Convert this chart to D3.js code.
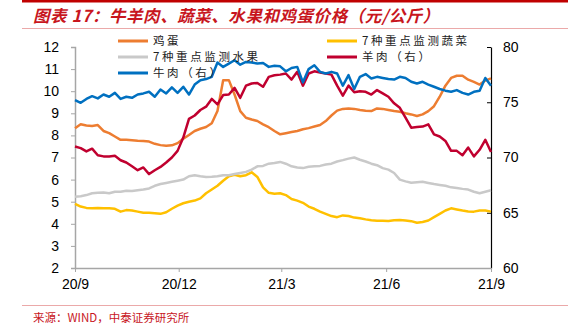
<!DOCTYPE html>
<html><head><meta charset="utf-8">
<script src="https://cdn.jsdelivr.net/npm/d3@7"></script>
<style>
html,body{margin:0;padding:0;background:#fff;}
svg{display:block;}
</style></head>
<body>
<svg id="c" width="568" height="326"></svg>
<script>
const dates = ["2020-09-01","2020-09-06","2020-09-11","2020-09-16","2020-09-21","2020-09-26","2020-10-01","2020-10-06","2020-10-11","2020-10-16","2020-10-21","2020-10-26","2020-10-31","2020-11-05","2020-11-10","2020-11-15","2020-11-20","2020-11-25","2020-11-30","2020-12-05","2020-12-10","2020-12-15","2020-12-20","2020-12-25","2020-12-30","2021-01-04","2021-01-09","2021-01-14","2021-01-19","2021-01-24","2021-01-29","2021-02-03","2021-02-08","2021-02-13","2021-02-18","2021-02-23","2021-02-28","2021-03-05","2021-03-10","2021-03-15","2021-03-20","2021-03-25","2021-03-30","2021-04-04","2021-04-09","2021-04-14","2021-04-19","2021-04-24","2021-04-29","2021-05-04","2021-05-09","2021-05-14","2021-05-19","2021-05-24","2021-05-29","2021-06-03","2021-06-08","2021-06-13","2021-06-18","2021-06-23","2021-06-28","2021-07-03","2021-07-08","2021-07-13","2021-07-18","2021-07-23","2021-07-28","2021-08-02","2021-08-07","2021-08-12","2021-08-17","2021-08-22","2021-08-27","2021-09-01"];

const egg = [8.32,8.5,8.45,8.43,8.47,8.2,8.1,7.95,7.8,7.8,7.78,7.76,7.75,7.72,7.62,7.56,7.53,7.55,7.65,7.85,8.02,8.2,8.3,8.38,8.55,9.1,10.5,10.5,9.85,9.1,8.8,8.72,8.65,8.5,8.37,8.2,8.05,8.1,8.15,8.2,8.28,8.33,8.4,8.47,8.65,8.9,9.12,9.2,9.22,9.2,9.15,9.12,9.1,9.22,9.2,9.15,9.1,9.07,9.0,8.95,8.88,8.95,9.1,9.32,9.75,10.25,10.6,10.7,10.7,10.52,10.42,10.3,10.48,10.58];

const veg = [4.9,4.78,4.72,4.7,4.72,4.7,4.7,4.68,4.55,4.62,4.6,4.55,4.5,4.5,4.48,4.45,4.52,4.68,4.82,4.93,5.0,5.05,5.15,5.38,5.55,5.72,5.95,6.15,6.22,6.15,6.2,6.33,6.12,5.65,5.4,5.36,5.38,5.3,5.12,5.05,4.95,4.78,4.68,4.55,4.45,4.35,4.3,4.38,4.35,4.28,4.25,4.2,4.16,4.14,4.14,4.13,4.16,4.17,4.15,4.12,4.05,4.08,4.15,4.3,4.45,4.6,4.7,4.65,4.6,4.56,4.55,4.6,4.6,4.55];

const fruit = [5.22,5.25,5.3,5.38,5.4,5.42,5.38,5.45,5.45,5.5,5.48,5.52,5.55,5.6,5.72,5.8,5.85,5.9,5.95,6.0,6.15,6.2,6.15,6.12,6.13,6.15,6.2,6.2,6.25,6.3,6.35,6.45,6.6,6.62,6.72,6.75,6.8,6.72,6.6,6.55,6.52,6.58,6.6,6.62,6.68,6.72,6.82,6.88,6.95,7.0,6.9,6.82,6.72,6.65,6.52,6.45,6.3,6.0,5.92,5.86,5.88,5.9,5.85,5.8,5.76,5.72,5.65,5.62,5.58,5.55,5.45,5.38,5.45,5.52];

const lamb = [71.0,70.85,70.55,70.8,70.2,70.1,70.1,70.15,69.75,69.55,69.2,68.85,69.1,68.5,68.85,69.15,69.55,70.0,70.6,71.8,73.5,73.8,74.3,74.6,75.3,74.8,75.65,75.7,76.3,75.4,76.5,76.7,76.75,76.4,77.3,77.45,77.5,77.6,77.05,77.75,76.5,77.6,77.8,77.7,77.6,77.5,76.5,75.6,76.5,75.9,76.0,75.95,75.7,76.1,75.8,75.5,74.9,74.5,73.6,72.7,72.75,72.8,73.0,72.1,71.9,71.5,70.6,70.6,70.2,70.9,70.1,70.7,71.6,70.5];

const beef = [75.2,74.95,75.3,75.55,75.35,75.7,75.5,75.85,75.3,75.5,75.4,75.7,75.8,75.95,75.5,76.15,75.8,76.35,75.85,76.4,75.7,76.6,77.0,77.1,77.3,78.6,78.2,78.5,78.8,78.4,78.65,78.6,78.5,78.55,78.2,78.3,78.25,77.8,78.1,78.2,76.8,78.0,78.35,77.75,77.6,77.75,77.6,76.5,77.45,76.2,77.3,77.55,77.15,77.3,77.2,77.1,77.05,77.3,77.2,76.85,76.7,76.85,76.6,76.4,76.2,76.05,75.95,76.1,75.85,75.7,75.95,76.05,77.2,76.5];

const leftTicks = [2,3,4,5,6,7,8,9,10,11,12];
const rightTicks = [60,65,70,75,80];
const xTickDates = ["2020-09-01","2020-12-01","2021-03-01","2021-06-01","2021-09-01"];
const xTickLabels = ["20/9","20/12","21/3","21/6","21/9"];

const seriesNames = ["鸡蛋","7种重点监测蔬菜","7种重点监测水果","羊肉（右）","牛肉（右）"];
const seriesColors = ["#ED7D31","#FFC000","#C9C9C9","#C0002F","#0070C0"];

const parse = d3.timeParse("%Y-%m-%d");
const svg = d3.select("#c");

const x = d3.scaleTime().domain([parse(dates[0]), parse(dates[dates.length-1])]).range([75, 491]);
const yL = d3.scaleLinear().domain([2,12]).range([268,47]);
const yR = d3.scaleLinear().domain([60,80]).range([268,47]);

// header / footer decoration
svg.append("rect").attr("x",22).attr("y",0).attr("width",546).attr("height",2.5).attr("fill","#C00000");
svg.append("text").attr("x",33).attr("y",22)
  .attr("font-family","'Noto Sans CJK SC'").attr("font-size",16.5).attr("font-weight","bold")
  .attr("font-style","italic").attr("letter-spacing",0.55).attr("fill","#C8161D")
  .text("图表 17：牛羊肉、蔬菜、水果和鸡蛋价格（元/公斤）");
svg.append("line").attr("x1",22).attr("x2",568).attr("y1",28.5).attr("y2",28.5).attr("stroke","#EBA9A9").attr("stroke-width",1);
svg.append("line").attr("x1",22).attr("x2",568).attr("y1",305.5).attr("y2",305.5).attr("stroke","#EBA9A9").attr("stroke-width",1);
svg.append("text").attr("x",33).attr("y",322)
  .attr("font-family","'Noto Sans CJK SC'").attr("font-size",11.5).attr("fill","#C8161D")
  .text("来源：WIND，中泰证券研究所");

// axes
const axL = svg.append("g").attr("transform","translate(75,0)")
  .call(d3.axisLeft(yL).tickValues(leftTicks).tickSize(4).tickPadding(12).tickFormat(d3.format("d")));
axL.select(".domain").attr("stroke","#A6A6A6").attr("stroke-width",1.5);
axL.selectAll(".tick line").attr("stroke","#A6A6A6");
axL.selectAll("text").attr("font-family","'Liberation Sans',Arial").attr("font-size",14).attr("fill","#000");

const axR = svg.append("g").attr("transform","translate(491,0)")
  .call(d3.axisRight(yR).tickValues(rightTicks).tickSizeInner(-4).tickSizeOuter(0).tickPadding(12).tickFormat(d3.format("d")));
axR.select(".domain").attr("stroke","#000").attr("stroke-width",1.2);
axR.selectAll(".tick line").attr("stroke","#000");
axR.selectAll("text").attr("font-family","'Liberation Sans',Arial").attr("font-size",14).attr("fill","#000");

const axB = svg.append("g").attr("transform","translate(0,268)")
  .call(d3.axisBottom(x).tickValues(xTickDates.map(parse)).tickSize(4).tickSizeOuter(0).tickPadding(7)
    .tickFormat((d,i)=>xTickLabels[i]));
axB.select(".domain").attr("stroke","#A6A6A6").attr("stroke-width",1.5);
axB.selectAll(".tick line").attr("stroke","#A6A6A6");
axB.selectAll("text").attr("font-family","'Liberation Sans',Arial").attr("font-size",14).attr("fill","#000");

// lines
const series = [
  {v: egg, y: yL}, {v: veg, y: yL}, {v: fruit, y: yL}, {v: lamb, y: yR}, {v: beef, y: yR}
];
series.forEach((s,k)=>{
  const line = d3.line().x((d,i)=>x(parse(dates[i]))).y(d=>s.y(d));
  svg.append("path").datum(s.v).attr("d",line).attr("fill","none")
    .attr("stroke",seriesColors[k]).attr("stroke-width",2.5).attr("stroke-linejoin","round");
});

// legend
const legPos = [[118,41],[327,41],[118,57],[327,57],[118,73]];
legPos.forEach((p,k)=>{
  svg.append("line").attr("x1",p[0]).attr("x2",p[0]+30).attr("y1",p[1]).attr("y2",p[1])
    .attr("stroke",seriesColors[k]).attr("stroke-width",3);
  svg.append("text").attr("x",p[0]+35).attr("y",p[1]+4)
    .attr("font-family","'Noto Sans CJK SC'").attr("font-size",11.5).attr("letter-spacing",2.6)
    .attr("fill","#222").text(seriesNames[k]);
});
</script>
</body></html>
